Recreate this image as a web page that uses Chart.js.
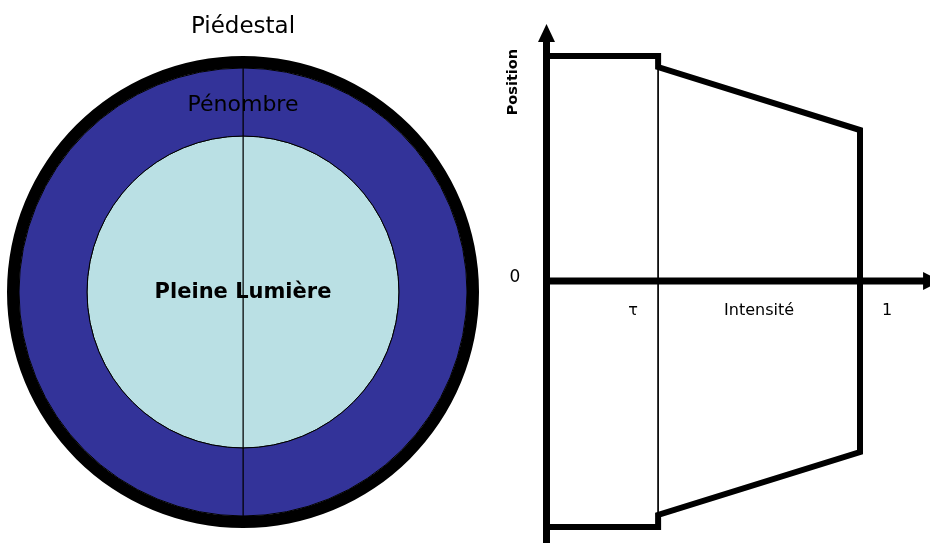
<!DOCTYPE html>
<html>
<head>
<meta charset="utf-8">
<script src="https://cdn.jsdelivr.net/npm/chart.js@4"></script>
<style>
  html, body { margin: 0; padding: 0; background: #ffffff; }
  #wrap { position: relative; width: 930px; height: 543px; overflow: hidden; }
  #left { position: absolute; left: 0; top: 0; }
  #right { position: absolute; left: 480px; top: 0; }
</style>
</head>
<body>
<div id="wrap">
  <canvas id="left" width="480" height="543"></canvas>
  <canvas id="right" width="450" height="543"></canvas>
</div>
<script>
// ---------- data ----------
const zoneLabels = ['Piédestal', 'Pénombre', 'Pleine Lumière'];
const ringWeights = [12, 68, 156];          // outer ring -> inner disc (relative thickness)
const ringColors = ['#000000', '#333399', '#bae0e4'];
const halves = [1, 1];                       // two halves -> vertical dividing line

const TAU = 0.355;
const profileX = [0, TAU, TAU, 1, 1, TAU, TAU, 0];
const profileY = [1.0, 1.0, 0.951, 0.671, -0.76, -1.04, -1.093, -1.093];
const tauLineX = [TAU, TAU];
const tauLineY = [0.951, -1.04];
const xTickLabels = ['τ', 'Intensité', '1'];
const xTickValues = [TAU, (TAU + 1) / 2, 1];
const yTickLabels = ['0'];
const yTickValues = [0];
const yAxisTitle = 'Position';

const FONT = '"Comic Sans MS", "DejaVu Sans", sans-serif';

// ---------- left: concentric zones ----------
const zoneText = {
  id: 'zoneText',
  afterDraw(chart) {
    const ctx = chart.ctx;
    const arc = chart.getDatasetMeta(0).data[0];
    const cx = arc.x, cy = arc.y;
    ctx.save();
    ctx.fillStyle = '#000';
    ctx.textAlign = 'center';
    ctx.textBaseline = 'middle';
    ctx.font = '23px ' + FONT;
    ctx.fillText(zoneLabels[0], cx, cy - 265);
    ctx.font = '22px ' + FONT;
    ctx.fillText(zoneLabels[1], cx, cy - 187);
    ctx.font = 'bold 21px ' + FONT;
    ctx.fillText(zoneLabels[2], cx, cy + 1);
    ctx.restore();
  }
};

new Chart(document.getElementById('left'), {
  type: 'pie',
  data: {
    labels: ['', ''],
    datasets: [
      { data: halves, weight: ringWeights[0], backgroundColor: ringColors[0], borderWidth: 0 },
      { data: halves, weight: ringWeights[1], backgroundColor: ringColors[1], borderColor: '#000', borderWidth: 1 },
      { data: halves, weight: ringWeights[2], backgroundColor: ringColors[2], borderColor: '#000', borderWidth: 1 }
    ]
  },
  options: {
    responsive: false,
    animation: false,
    devicePixelRatio: 1,
    events: [],
    radius: 236,
    layout: { padding: { left: 6, right: 0, top: 56, bottom: 15 } },
    plugins: { legend: { display: false }, tooltip: { enabled: false }, title: { display: false } }
  },
  plugins: [zoneText]
});

// ---------- right: intensity profile ----------
const axesPlugin = {
  id: 'axesArrows',
  beforeDatasetsDraw(chart) {
    const ctx = chart.ctx;
    const xs = chart.scales.x, ys = chart.scales.y;
    const x0 = xs.getPixelForValue(0), y0 = ys.getPixelForValue(0);
    ctx.save();
    ctx.fillStyle = '#000';
    ctx.strokeStyle = '#000';
    ctx.lineWidth = 7;
    ctx.lineCap = 'butt';
    // vertical axis
    const yTip = ys.getPixelForValue(1.142);
    ctx.beginPath();
    ctx.moveTo(x0 - 0.5, chart.height + 2);
    ctx.lineTo(x0 - 0.5, yTip + 16);
    ctx.stroke();
    ctx.beginPath();
    ctx.moveTo(x0 - 0.5, yTip);
    ctx.lineTo(x0 - 9, yTip + 18);
    ctx.lineTo(x0 + 8, yTip + 18);
    ctx.closePath();
    ctx.fill();
    // horizontal axis
    const xTip = xs.getPixelForValue(1.259);
    ctx.beginPath();
    ctx.moveTo(x0 - 4, y0);
    ctx.lineTo(xTip - 16, y0);
    ctx.stroke();
    ctx.beginPath();
    ctx.moveTo(xTip, y0);
    ctx.lineTo(xTip - 18, y0 - 9);
    ctx.lineTo(xTip - 18, y0 + 9);
    ctx.closePath();
    ctx.fill();
    ctx.restore();
  },
  afterDraw(chart) {
    const ctx = chart.ctx;
    const xs = chart.scales.x, ys = chart.scales.y;
    const x0 = xs.getPixelForValue(0), y0 = ys.getPixelForValue(0);
    ctx.save();
    ctx.fillStyle = '#000';
    ctx.textAlign = 'center';
    ctx.textBaseline = 'middle';
    // x tick labels
    const offs = [-25, 0, 27];
    ctx.font = '16px ' + FONT;
    xTickLabels.forEach((t, i) => {
      ctx.fillText(t, xs.getPixelForValue(xTickValues[i]) + offs[i], y0 + 30);
    });
    // y tick label
    ctx.font = '17px ' + FONT;
    yTickLabels.forEach((t, i) => {
      ctx.fillText(t, x0 - 32, ys.getPixelForValue(yTickValues[i]) - 3);
    });
    // y axis title
    ctx.translate(x0 - 34, ys.getPixelForValue(0.884));
    ctx.rotate(-Math.PI / 2);
    ctx.font = 'bold 14.5px "DejaVu Sans", sans-serif';
    ctx.fillText(yAxisTitle, 0, 0);
    ctx.restore();
  }
};

const toPts = (xa, ya) => xa.map((x, i) => ({ x: x, y: ya[i] }));

new Chart(document.getElementById('right'), {
  type: 'scatter',
  data: {
    datasets: [
      { data: toPts(tauLineX, tauLineY), showLine: true, borderColor: '#000', borderWidth: 1, pointRadius: 0 },
      { data: toPts(profileX, profileY), showLine: true, borderColor: '#000', borderWidth: 6,
        borderJoinStyle: 'miter', borderCapStyle: 'butt', pointRadius: 0, tension: 0 }
    ]
  },
  options: {
    responsive: false,
    animation: false,
    devicePixelRatio: 1,
    events: [],
    layout: { padding: 0 },
    scales: {
      x: { type: 'linear', display: false, min: -0.21406, max: 1.22364 },
      y: { type: 'linear', display: false, min: -1.16444, max: 1.24889 }
    },
    plugins: { legend: { display: false }, tooltip: { enabled: false } }
  },
  plugins: [axesPlugin]
});
</script>
</body>
</html>
